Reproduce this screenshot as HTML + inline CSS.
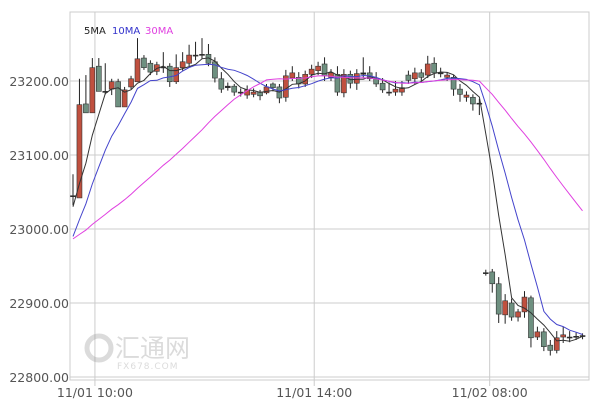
<!DOCTYPE html>
<html><head><meta charset="utf-8"><style>
body{margin:0;background:#fff;}
svg text{font-family:"DejaVu Sans","Liberation Sans","Noto Sans CJK SC",sans-serif;}
</style></head><body>
<svg id="chart" width="597" height="401" xmlns="http://www.w3.org/2000/svg">
<g id="grid"></g>
<g opacity="0.35">
<circle cx="99" cy="348" r="12" fill="none" stroke="#999" stroke-width="5"/>
<text x="115" y="357" font-size="25" fill="#999" font-family="'Noto Sans CJK SC',sans-serif">汇通网</text>
<text x="117" y="369" font-size="9" fill="#999" letter-spacing="1">FX678.COM</text>
</g>
<g id="candles"></g>
<g id="mas"></g>
<g id="axes"></g>
<g font-size="10" font-family="'Liberation Mono',monospace">
<text x="84" y="34" fill="#222" font-family="'Liberation Mono',monospace">5MA</text>
<text x="112" y="34" fill="#3333cc" font-family="'Liberation Mono',monospace">10MA</text>
<text x="145" y="34" fill="#e040e0" font-family="'Liberation Mono',monospace">30MA</text>
</g>
</svg>
<script>
const opens = [23045,23042,23169,23157,23220,23186,23189,23199,23165,23192,23199,23231,23224,23213,23219,23220,23199,23218,23224,23235,23235,23236,23226,23203,23191,23193,23185,23181,23182,23185,23184,23196,23192,23178,23204,23205,23196,23209,23214,23223,23205,23209,23184,23209,23197,23209,23211,23203,23197,23185,23185,23185,23208,23203,23211,23208,23224,23211,23205,23205,23189,23178,23178,23170,22941,22942,22926,22884,22900,22881,22888,22907,22854,22861,22843,22836,22854,22854,22855,22855];
const closes = [23045,23168,23157,23218,23186,23186,23199,23165,23188,23203,23230,23218,23212,23222,23219,23199,23218,23226,23235,23235,23236,23224,23204,23189,23193,23185,23185,23188,23185,23180,23192,23191,23177,23207,23211,23196,23209,23216,23220,23207,23211,23185,23209,23197,23210,23211,23203,23196,23188,23185,23189,23191,23201,23211,23205,23223,23211,23211,23208,23189,23182,23181,23169,23170,22941,22926,22885,22903,22881,22888,22908,22853,22861,22841,22836,22853,22857,22854,22855,22856];
const highs = [23074,23203,23208,23231,23231,23224,23203,23203,23192,23207,23258,23235,23228,23226,23239,23224,23236,23239,23249,23253,23258,23250,23232,23212,23198,23196,23190,23194,23190,23188,23196,23198,23196,23215,23220,23212,23214,23222,23226,23232,23216,23220,23216,23214,23216,23232,23220,23212,23204,23198,23200,23200,23214,23218,23216,23234,23232,23218,23212,23208,23196,23186,23182,23176,22945,22946,22935,22912,22906,22892,22916,22910,22868,22866,22850,22862,22868,22862,22860,22859];
const lows = [23032,23042,23157,23157,23186,23182,23181,23165,23165,23189,23199,23215,23208,23208,23211,23192,23196,23214,23220,23228,23230,23220,23198,23184,23187,23180,23179,23176,23178,23174,23182,23186,23170,23172,23200,23190,23192,23204,23208,23200,23200,23180,23178,23190,23188,23204,23200,23192,23184,23180,23180,23180,23196,23196,23200,23204,23204,23205,23200,23180,23172,23172,23160,23154,22937,22914,22873,22872,22876,22875,22880,22840,22850,22835,22829,22832,22846,22847,22850,22851];
const prevCloses = [22985,22985,22985,22985,22985,22985,22985,22985,22985,22985,22985,22985,22985,22985,22985,22985,22985,22985,22985,22985,22940,22945,22950,22955,22960,23010,23020,23030,23045];
const yTicks = [23200,23100,23000,22900,22800];
const xTickLabels = ["11/01 10:00","11/01 14:00","11/02 08:00"];
const xTickIndex = [3.4,37.4,64.6];

const L=70,R=589,T=12,B=380;
const y = p => 81 + (23200-p)*0.74;
const x = i => 73 + i*6.45;
const NS="http://www.w3.org/2000/svg";
function mk(tag, parent, attrs){const e=document.createElementNS(NS,tag);for(const k in attrs)e.setAttribute(k,attrs[k]);parent.appendChild(e);return e;}
const grid=document.getElementById('grid'), axes=document.getElementById('axes');
const frame=mk('rect',grid,{x:L,y:T,width:R-L,height:B-T,fill:'none',stroke:'#ccc'});


yTicks.forEach(v=>{
  const g=mk('line',grid,{x1:L,x2:R,y1:y(v),y2:y(v),stroke:'#ccc'});
  
  
  const t=mk('text',axes,{x:L-1,y:y(v)+5,'text-anchor':'end','font-size':'12.5',fill:'#555'});
  t.textContent=v.toFixed(2);
  
  
});
xTickLabels.forEach((s,k)=>{
  const xx=x(xTickIndex[k]);
  const g=mk('line',grid,{x1:xx,x2:xx,y1:T,y2:B+6,stroke:'#ccc'});
  
  
  const t=mk('text',axes,{x:xx,y:397,'text-anchor':'middle','font-size':'12.5',fill:'#555'});
  t.textContent=s;
  
  
});
const cg=document.getElementById('candles');
closes.forEach((c,i)=>{
  const o=opens[i], cx=x(i);
  const w=mk('line',cg,{x1:cx,x2:cx,y1:y(highs[i]),y2:y(lows[i]),stroke:'#222','stroke-width':1});
  
  
  const top=y(Math.max(o,c)), h=Math.max(1,Math.abs(y(o)-y(c)));
  const up=c>=o;
  const b=mk('rect',cg,{x:cx-2.5,y:top,width:5,height:h,fill:h<=1.5?'#222':(up?'#c0503f':'#6e9080'),stroke:'#333','stroke-width':0.6});
  
  
});
const all=prevCloses.concat(closes), off=prevCloses.length;
const mg=document.getElementById('mas');
[[5,'#333'],[10,'#4444cc'],[30,'#e040e0']].forEach(([n,col])=>{
  const pts=closes.map((_,i)=>{const j=i+off;let s=0;for(let k=j-n+1;k<=j;k++)s+=all[k];return x(i).toFixed(1)+','+y(s/n).toFixed(1);});
  const p=mk('polyline',mg,{points:pts.join(' '),fill:'none',stroke:col,'stroke-width':1});
  
  
});
</script>
</body></html>
